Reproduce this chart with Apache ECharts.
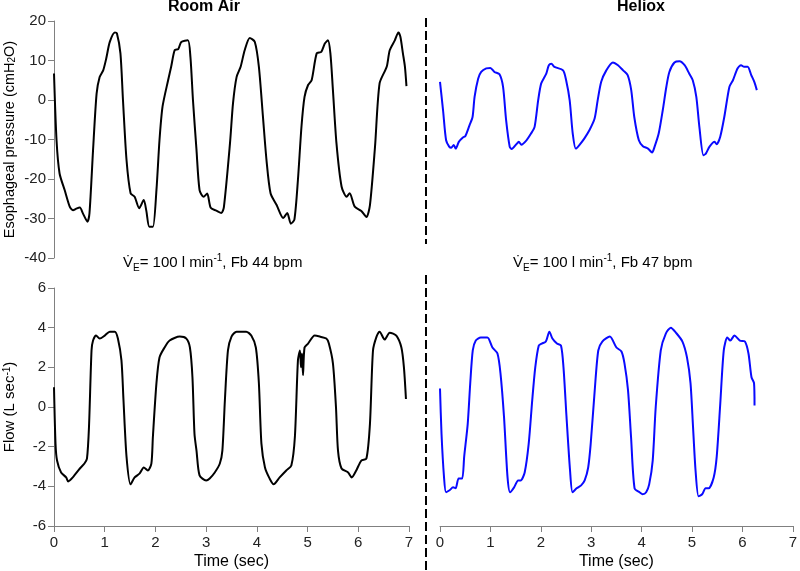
<!DOCTYPE html>
<html>
<head>
<meta charset="utf-8">
<script src="https://cdn.jsdelivr.net/npm/echarts@6/dist/echarts.min.js"></script>
<style>
html,body{margin:0;padding:0;background:#fff;}
#chart{width:800px;height:571px;}
</style>
</head>
<body>
<div id="chart"></div>
<script>
// ---- Data (time in sec) ----
const xTicks = [0,1,2,3,4,5,6,7];
const pressureTicks = [-40,-30,-20,-10,0,10,20];
const flowTicks = [-6,-4,-2,0,2,4,6];

// Room Air – esophageal pressure (cmH2O)
const raPressT = [0,0.05,0.11,0.21,0.31,0.375,0.44,0.51,0.57,0.66,0.70,0.77,0.84,0.90,0.97,1.03,1.10,1.20,1.24,1.31,1.36,1.43,1.51,1.59,1.68,1.77,1.82,1.88,1.95,2.02,2.08,2.14,2.25,2.31,2.38,2.45,2.51,2.64,2.69,2.74,2.81,2.87,2.95,3.02,3.09,3.20,3.30,3.35,3.47,3.53,3.60,3.68,3.76,3.86,3.96,4.04,4.12,4.19,4.27,4.39,4.52,4.60,4.67,4.74,4.81,4.88,4.94,5.01,5.08,5.18,5.27,5.34,5.40,5.45,5.50,5.57,5.67,5.77,5.83,5.93,6.06,6.16,6.23,6.33,6.42,6.56,6.62,6.72,6.79,6.83,6.88,6.92,6.95];
const raPressV = [6.7,-10.2,-18.6,-22.8,-27,-27.9,-27.5,-27.2,-28.7,-30.8,-28.6,-12.7,1.6,5.8,7.5,10.5,14.7,17.1,16.9,11.8,0,-15.2,-23.6,-24.5,-27.4,-25.3,-28,-32.1,-32.1,-22.8,-10.2,-1.7,5,8.4,12.6,12.9,14.7,15.1,10.9,0,-12.7,-22.8,-24.5,-23.7,-27.3,-28,-28.6,-27.1,-11,-0.8,5.8,8.4,12.6,15.7,14.7,8.4,-4.2,-15.2,-23.6,-26.6,-29.9,-28.6,-31.3,-30.3,-20.2,-6.7,0.8,3.8,5,11.8,12.2,14.3,15.1,11.8,2.5,-11,-21.9,-24.5,-23.6,-27,-28.1,-29.6,-26.6,-11.8,4.2,8.4,12.6,15.1,17.1,16,11.8,8.4,3.5];

// Room Air – flow (L/sec)
const raFlowT = [0,0.03,0.06,0.14,0.24,0.28,0.37,0.51,0.60,0.65,0.69,0.74,0.77,0.83,0.90,1.00,1.10,1.20,1.26,1.33,1.37,1.43,1.51,1.59,1.69,1.77,1.85,1.92,1.95,2.02,2.08,2.18,2.28,2.48,2.61,2.68,2.73,2.77,2.81,2.87,3.00,3.07,3.17,3.27,3.32,3.37,3.43,3.50,3.60,3.79,3.89,3.98,4.04,4.09,4.16,4.25,4.33,4.45,4.58,4.68,4.75,4.81,4.85,4.87,4.89,4.91,4.94,5.01,5.14,5.24,5.37,5.42,5.50,5.56,5.60,5.67,5.80,5.87,5.96,6.06,6.16,6.23,6.29,6.36,6.42,6.52,6.62,6.75,6.85,6.90,6.94];
const raFlowV = [1.0,-1.85,-2.7,-3.3,-3.55,-3.75,-3.55,-3.1,-2.85,-2.6,-1.0,2.85,3.35,3.6,3.45,3.6,3.8,3.8,3.45,2.35,0.35,-2.5,-3.9,-3.55,-3.35,-3.05,-3.2,-2.85,-1.5,1.2,2.5,3.0,3.35,3.55,3.45,3.0,1.5,-1.35,-2.2,-3.45,-3.7,-3.6,-3.3,-2.85,-2.2,0.35,2.85,3.55,3.8,3.8,3.6,3.0,1.2,-1.85,-3.05,-3.6,-3.9,-3.55,-3.2,-2.95,-1.5,2.35,2.85,2.0,2.7,1.6,3.0,3.2,3.6,3.55,3.45,3.2,2.2,0,-2.2,-3.1,-3.3,-3.55,-3.2,-2.7,-2.6,-0.85,2.85,3.55,3.8,3.4,3.75,3.6,3.0,2.0,0.4];

// Heliox – esophageal pressure (cmH2O)
const hePressT = [0,0.06,0.12,0.18,0.22,0.27,0.31,0.37,0.45,0.50,0.58,0.64,0.68,0.75,0.81,0.91,0.99,1.07,1.17,1.24,1.30,1.37,1.41,1.50,1.55,1.60,1.70,1.79,1.86,1.93,1.99,2.09,2.14,2.19,2.25,2.42,2.48,2.55,2.61,2.67,2.74,2.84,2.94,3.04,3.10,3.17,3.27,3.40,3.50,3.60,3.69,3.76,3.82,3.91,3.99,4.09,4.17,4.22,4.30,4.38,4.45,4.51,4.61,4.71,4.81,4.90,4.97,5.04,5.10,5.18,5.23,5.30,5.40,5.44,5.51,5.59,5.69,5.76,5.85,5.92,5.98,6.05,6.12,6.18,6.23];
const hePressV = [4.6,-2.6,-10.2,-11.8,-12.1,-11.4,-12.3,-10.6,-9.5,-9.1,-6.4,-4.3,0.8,5.4,7.1,8.0,8.1,7.1,6.5,3.3,-5.1,-11.8,-12.4,-11.2,-10.6,-11.3,-10.2,-8.5,-6.8,-0.1,4.2,6.7,8.8,9.2,8.4,7.5,5.0,-0.1,-8.5,-12.3,-11.4,-9.7,-7.6,-4.7,-0.1,4.6,7.5,9.5,8.8,7.5,6.3,2.5,-4.3,-10.2,-11.7,-12.3,-13.3,-11.8,-8.5,-2.6,3.3,7.1,9.5,9.8,8.8,6.7,5.0,0.8,-6.8,-14.0,-13.5,-11.8,-10.6,-11.2,-9.3,-4.3,3.3,5.0,8.0,8.8,8.4,8.4,6.3,4.6,2.5];

// Heliox – flow (L/sec)
const heFlowT = [0,0.03,0.08,0.12,0.19,0.26,0.31,0.37,0.44,0.48,0.55,0.60,0.65,0.71,0.81,0.94,1.04,1.14,1.20,1.27,1.34,1.39,1.47,1.55,1.60,1.68,1.76,1.83,1.89,1.96,2.02,2.10,2.17,2.23,2.32,2.40,2.45,2.51,2.58,2.63,2.71,2.80,2.87,2.94,2.99,3.07,3.14,3.22,3.37,3.50,3.60,3.66,3.73,3.79,3.86,3.96,4.02,4.09,4.15,4.22,4.28,4.38,4.48,4.58,4.68,4.81,4.90,4.97,5.02,5.07,5.13,5.20,5.27,5.33,5.43,5.49,5.56,5.63,5.70,5.76,5.84,5.95,6.05,6.12,6.18,6.23,6.24];
const heFlowV = [0.93,-1.35,-3.55,-4.3,-4.2,-4.05,-4.1,-3.6,-3.6,-2.5,-0.85,1.2,2.85,3.35,3.5,3.5,3.0,2.7,1.7,-0.5,-3.55,-4.3,-4.05,-3.7,-3.7,-3.3,-1.85,0.35,2.0,3.1,3.2,3.3,3.8,3.45,3.2,3.1,2.0,-0.5,-3.2,-4.3,-4.1,-3.95,-3.7,-3.05,-1.85,0.85,2.85,3.3,3.55,3.0,2.8,2.2,0.85,-1.5,-4.1,-4.3,-4.4,-4.3,-3.9,-2.7,0,2.85,3.7,4.0,3.75,3.3,2.5,1.2,-1.0,-3.2,-4.5,-4.4,-4.1,-4.1,-3.55,-2.5,0.15,2.85,3.5,3.35,3.6,3.35,3.3,2.7,1.5,1.2,0.08];

function zip(t, v) { return t.map((x, i) => [x, v[i]]); }

const chart = echarts.init(document.getElementById('chart'), null, {renderer: 'canvas'});

const FF = 'Liberation Sans, Arial, sans-serif';
const axisLineStyle = {color: '#808080', width: 1};
const labelStyle = {color: '#222', fontSize: 15, fontFamily: FF};

const grids = [
  {left: 54, top: 21, width: 355, height: 237},
  {left: 440, top: 21, width: 356, height: 237},
  {left: 54, top: 288, width: 355, height: 238},
  {left: 440, top: 288, width: 356, height: 238}
];

function xAx(gi, show) {
  return {
    type: 'value', gridIndex: gi, min: xTicks[0], max: xTicks[xTicks.length - 1], interval: 1,
    show: show,
    name: 'Time (sec)', nameLocation: 'middle', nameGap: 28,
    nameTextStyle: {color: '#000', fontSize: 16, fontFamily: FF},
    axisLine: {show: true, onZero: false, lineStyle: axisLineStyle},
    axisTick: {show: true, length: 6, lineStyle: axisLineStyle},
    axisLabel: Object.assign({margin: 9}, labelStyle),
    splitLine: {show: false}
  };
}
function yAx(gi, show, ticks, interval, name, fs) {
  return {
    type: 'value', gridIndex: gi, min: ticks[0], max: ticks[ticks.length - 1], interval: interval,
    show: show,
    name: name, nameLocation: 'middle', nameRotate: 90, nameGap: 37,
    nameTextStyle: {
      color: '#000', fontSize: fs, fontFamily: FF,
      rich: {
        n: {fontSize: fs, color: '#000', fontFamily: FF},
        sub: {fontSize: 10, color: '#000', verticalAlign: 'bottom', fontFamily: FF},
        sup: {fontSize: 10, color: '#000', verticalAlign: 'top', fontFamily: FF}
      }
    },
    axisLine: {show: true, onZero: false, lineStyle: axisLineStyle},
    axisTick: {show: true, length: 6, lineStyle: axisLineStyle},
    axisLabel: Object.assign({margin: 8}, labelStyle),
    splitLine: {show: false}
  };
}

function lineSeries(xi, data, color) {
  return {
    type: 'line', xAxisIndex: xi, yAxisIndex: xi, data: data,
    showSymbol: false, smooth: 0.25, animation: false,
    lineStyle: {color: color, width: 2}
  };
}

const richAnn = {
  n: {fontSize: 15, color: '#000', fontFamily: FF, lineHeight: 20},
  sub: {fontSize: 10, color: '#333', fontFamily: FF, verticalAlign: 'bottom', lineHeight: 20},
  sup: {fontSize: 10, color: '#000', fontFamily: FF, verticalAlign: 'top', lineHeight: 20}
};

function annText(x, bpm) {
  return {
    type: 'text', left: x, top: 253, z: 10,
    style: {
      text: '{n|V\u0307}{sub|E}{n|= 100 l min}{sup|-1}{n|, Fb ' + bpm + ' bpm}',
      rich: richAnn
    }
  };
}

const option = {
  backgroundColor: '#fff',
  animation: false,
  grid: grids,
  xAxis: [xAx(0, false), xAx(1, false), xAx(2, true), xAx(3, true)],
  yAxis: [
    yAx(0, true, pressureTicks, 10, '{n|Esophageal pressure (cmH}{sub|2}{n|O)}', 14.5),
    yAx(1, false, pressureTicks, 10, '', 15),
    yAx(2, true, flowTicks, 2, '{n|Flow (L sec}{sup|-1}{n|)}', 15),
    yAx(3, false, flowTicks, 2, '', 15)
  ],
  series: [
    lineSeries(0, zip(raPressT, raPressV), '#000000'),
    lineSeries(1, zip(hePressT, hePressV), '#0a0aff'),
    lineSeries(2, zip(raFlowT, raFlowV), '#000000'),
    lineSeries(3, zip(heFlowT, heFlowV), '#0a0aff')
  ],
  graphic: [
    {type: 'text', left: 168, top: -1, style: {text: 'Room Air', font: 'bold 16px "Liberation Sans", Arial, sans-serif', fill: '#000'}},
    {type: 'text', left: 617, top: -1, style: {text: 'Heliox', font: 'bold 16px "Liberation Sans", Arial, sans-serif', fill: '#000'}},
    annText(123, 44),
    annText(513, 47),
    {type: 'line', shape: {x1: 426, y1: 18, x2: 426, y2: 244}, style: {stroke: '#000', lineWidth: 2, lineDash: [9, 4]}},
    {type: 'line', shape: {x1: 426, y1: 275, x2: 426, y2: 571}, style: {stroke: '#000', lineWidth: 2, lineDash: [9, 4]}}
  ]
};
chart.setOption(option);
</script>
</body>
</html>
